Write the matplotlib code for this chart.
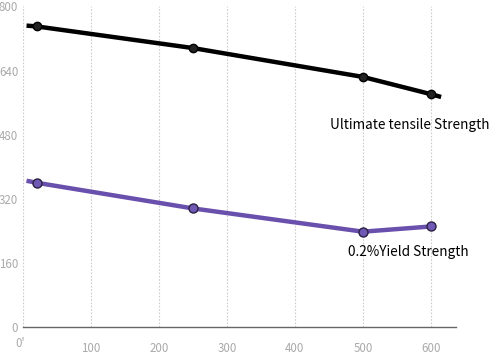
import matplotlib
matplotlib.use("Agg")
import matplotlib.pyplot as plt
import matplotlib.transforms as mtransforms

# 온도별 강도 (MPa)
temp_uts = [5, 20, 250, 500, 600, 615]
uts = [752, 750, 696, 624, 581, 574]
temp_ys = [5, 20, 250, 500, 600]
ys = [365, 360, 296, 238, 251]
marker_idx_uts = [1, 2, 3, 4]
marker_idx_ys = [1, 2, 3, 4]

x_ticks = [0, 100, 200, 300, 400, 500, 600]
x_labels = ["0'", "100", "200", "300", "400", "500", "600"]
y_ticks = [0, 160, 320, 480, 640, 800]

plt.rcParams["font.family"] = ["Noto Sans CJK JP", "DejaVu Sans"]

fig = plt.figure(figsize=(4.92, 3.54), dpi=100)
ax = fig.add_axes([0.047, 0.076, 0.88, 0.906])

ax.plot(temp_uts, uts, color="black", linewidth=3.2, solid_capstyle="butt",
        marker="o", markevery=marker_idx_uts, markersize=6,
        markerfacecolor="#222222", markeredgecolor="#000000", zorder=3)
ax.plot(temp_ys, ys, color="#6a50ad", linewidth=3.2, solid_capstyle="butt",
        marker="o", markevery=marker_idx_ys, markersize=6.5,
        markerfacecolor="#7058b5", markeredgecolor="#2a2040", markeredgewidth=1,
        zorder=3)

ax.text(451, 505, "Ultimate tensile Strength", fontsize=9.8, ha="left", va="center")
ax.text(478, 187, "0.2%Yield Strength", fontsize=9.8, ha="left", va="center")

ax.set_xlim(0, 637)
ax.set_ylim(0, 800)
ax.set_xticks(x_ticks)
ax.set_xticklabels(x_labels)
ax.set_yticks(y_ticks)
ax.grid(axis="x", color="#cccccc", linestyle=(0, (1.5, 1.5)), linewidth=0.8)
ax.set_axisbelow(True)

for side in ["top", "right", "left"]:
    ax.spines[side].set_visible(False)
ax.spines["bottom"].set_color("#666666")
ax.spines["bottom"].set_linewidth(1)

ax.tick_params(axis="both", length=0, labelsize=8.3, labelcolor="#aaaaaa")
ax.tick_params(axis="x", pad=11)
ax.tick_params(axis="y", pad=3.5)
lbl0 = ax.get_xticklabels()[0]
lbl0.set_transform(lbl0.get_transform() + mtransforms.ScaledTranslation(-3 / 100, 5 / 100, fig.dpi_scale_trans))

fig.savefig("out.png", dpi=100)
